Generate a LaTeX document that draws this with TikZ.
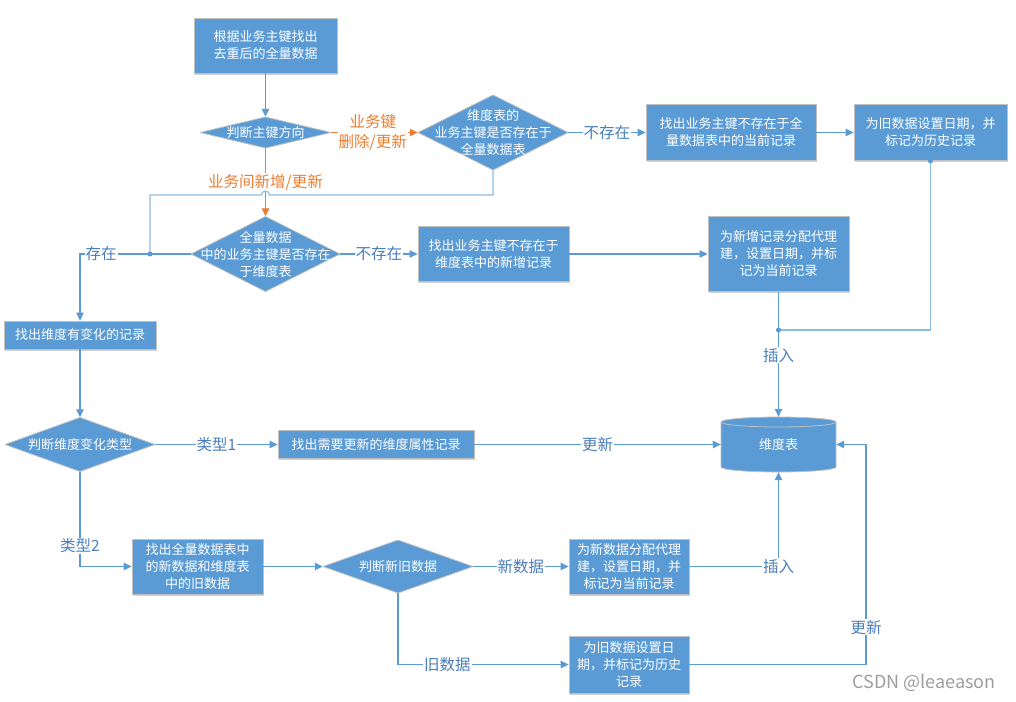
\documentclass[tikz,border=0pt]{standalone}
\usepackage{fontspec}
\setmainfont{Noto Sans CJK SC}
\usetikzlibrary{arrows.meta,shadows}
\definecolor{boxblue}{HTML}{5B9BD5}
\definecolor{linecol}{HTML}{5B9BD5}
\definecolor{lightline}{HTML}{8FBCE6}
\definecolor{lblcol}{HTML}{4A7EBB}
\definecolor{orangec}{HTML}{ED7D31}
\definecolor{bordergrey}{HTML}{C0C0C0}
\begin{document}
\begin{tikzpicture}[x=1pt,y=-1pt,
  box/.style={rectangle, fill=boxblue, draw=bordergrey, line width=0.8pt, text=white, align=center, inner sep=0pt,
    font=\fontsize{13}{17}\selectfont,
    drop shadow={shadow xshift=1.2pt, shadow yshift=-1.5pt, opacity=0.18, fill=black}},
  dia/.style={rectangle, inner sep=0pt, text=white, align=center, font=\fontsize{13}{17}\selectfont,
    path picture={\fill[boxblue] (path picture bounding box.north) -- (path picture bounding box.east) -- (path picture bounding box.south) -- (path picture bounding box.west) -- cycle;
      \draw[bordergrey, line width=0.8pt] (path picture bounding box.north) -- (path picture bounding box.east) -- (path picture bounding box.south) -- (path picture bounding box.west) -- cycle;}},
  cylnode/.style={rectangle, inner sep=0pt, text=white, font=\fontsize{13}{17}\selectfont},
  conn/.style={linecol, line width=1.2pt},
  arr/.style={conn, -{Triangle[length=8pt,width=7.5pt]}},
  oarr/.style={orangec, line width=1.2pt, -{Triangle[length=8pt,width=7.5pt]}},
  lbl/.style={fill=white, inner sep=1pt, text=lblcol, font=\fontsize{15.5}{19}\selectfont},
  olbl/.style={fill=white, inner sep=1pt, text=orangec, align=center, font=\fontsize{15.5}{20}\selectfont},
  dot/.style={fill=linecol}
]
\useasboundingbox (0,0) rectangle (1016,701);
\fill[white] (0,0) rectangle (1016,701);

% cylinder shape
\fill[boxblue] (721,422) -- (721,467) arc[start angle=180, end angle=360, x radius=57.5pt, y radius=5pt] -- (836,422) arc[start angle=0, end angle=180, x radius=57.5pt, y radius=5pt] -- cycle;
\draw[bordergrey, line width=0.8pt] (721,422) -- (721,467) arc[start angle=180, end angle=360, x radius=57.5pt, y radius=5pt] -- (836,422) arc[start angle=0, end angle=180, x radius=57.5pt, y radius=5pt] -- cycle;
\draw[bordergrey, line width=0.8pt] (721,422) arc[start angle=180, end angle=360, x radius=57.5pt, y radius=5pt];

% nodes
\node[box, minimum width=143pt, minimum height=55pt] (b1) at (265.5,45.5) {根据业务主键找出\\去重后的全量数据};
\node[dia, minimum width=131pt, minimum height=31pt] (d1) at (265.5,132.5) {判断主键方向};
\node[dia, minimum width=150pt, minimum height=75pt] (d2) at (493,132.5) {维度表的\\业务主键是否存在于\\全量数据表};
\node[box, minimum width=170pt, minimum height=56pt] (b7) at (731,132.5) {找出业务主键不存在于全\\量数据表中的当前记录};
\node[box, minimum width=153pt, minimum height=56pt] (b8) at (930.5,132.5) {为旧数据设置日期，并\\标记为历史记录};
\node[dia, minimum width=149pt, minimum height=75pt] (d4) at (265.5,254) {全量数据\\中的业务主键是否存在\\于维度表};
\node[box, minimum width=151pt, minimum height=55pt] (b5) at (493.5,254) {找出业务主键不存在于\\维度表中的新增记录};
\node[box, minimum width=141pt, minimum height=75pt] (b6) at (778.5,254) {为新增记录分配代理\\建，设置日期，并标\\记为当前记录};
\node[box, minimum width=152pt, minimum height=28pt] (bc) at (80,335) {找出维度有变化的记录};
\node[dia, minimum width=150pt, minimum height=54pt] (d5) at (80,444.5) {判断维度变化类型};
\node[box, minimum width=196pt, minimum height=28pt] (b9) at (376,444.5) {找出需要更新的维度属性记录};
\node[cylnode, minimum width=115pt, minimum height=55pt] (cyl) at (778.5,444.5) {维度表};
\node[box, minimum width=131pt, minimum height=55pt] (b10) at (197.5,566.5) {找出全量数据表中\\的新数据和维度表\\中的旧数据};
\node[dia, minimum width=150pt, minimum height=53pt] (d6) at (398,566.5) {判断新旧数据};
\node[box, minimum width=120pt, minimum height=55pt] (b11) at (629,566.5) {为新数据分配代理\\建，设置日期，并\\标记为当前记录};
\node[box, minimum width=120pt, minimum height=57pt] (b12) at (629,664.5) {为旧数据设置日\\期，并标记为历史\\记录};

\coordinate (j0) at (150,254);
\coordinate (j1) at (778.5,330);

% connectors
\draw[arr] (b1.south) -- (d1.north);
\draw[oarr] (d1.east) -- node[olbl, pos=0.48]{业务键\\删除/更新} (d2.west);
\draw[oarr] (d1.south) -- node[olbl, pos=0.5]{业务间新增/更新} (d4.north);
\draw[lightline, line width=1.2pt] (d2.south) -- (493,195) -- (269.5,195) arc[start angle=0, end angle=180, radius=4pt] -- (150,195) -- (j0);
\draw[arr] (d4.west) -- node[lbl, pos=0.81]{存在} (80,254) -- (bc.north);
\fill[dot] (j0) circle[radius=2.5pt];
\draw[arr] (d4.east) -- node[lbl]{不存在} (b5.west);
\draw[arr] (d2.east) -- node[lbl]{不存在} (b7.west);
\draw[arr] (b7.east) -- (b8.west);
\draw[arr] (b5.east) -- (b6.west);
\draw[lightline, line width=1.2pt] (b8.south) -- (930.5,330) -- (j1);
\fill[dot] (b8.south) circle[radius=2.5pt];
\draw[conn] (b6.south) -- (j1);
\draw[arr] (j1) -- node[lbl, pos=0.29]{插入} (cyl.north);
\fill[dot] (j1) circle[radius=2.5pt];
\draw[arr] (bc.south) -- (d5.north);
\draw[arr] (d5.east) -- node[lbl]{类型1} (b9.west);
\draw[arr] (b9.east) -- node[lbl]{更新} (cyl.west);
\draw[arr] (d5.south) -- node[lbl, pos=0.78]{类型2} (80,566.5) -- (b10.west);
\draw[arr] (b10.east) -- (d6.west);
\draw[arr] (d6.east) -- node[lbl]{新数据} (b11.west);
\draw[arr] (d6.south) -- (398,664.5) -- node[lbl, pos=0.29]{旧数据} (b12.west);
\draw[arr] (b11.east) -- (778.5,566.5) node[lbl]{插入} -- (cyl.south);
\draw[arr] (b12.east) -- (866,664.5) -- node[lbl, pos=0.17]{更新} (866,444.5) -- (cyl.east);

\node[text=black!38, font=\fontsize{18}{20}\selectfont, inner sep=0pt] (wm) at (924,683) {CSDN @leaeason};
\end{tikzpicture}
\end{document}
